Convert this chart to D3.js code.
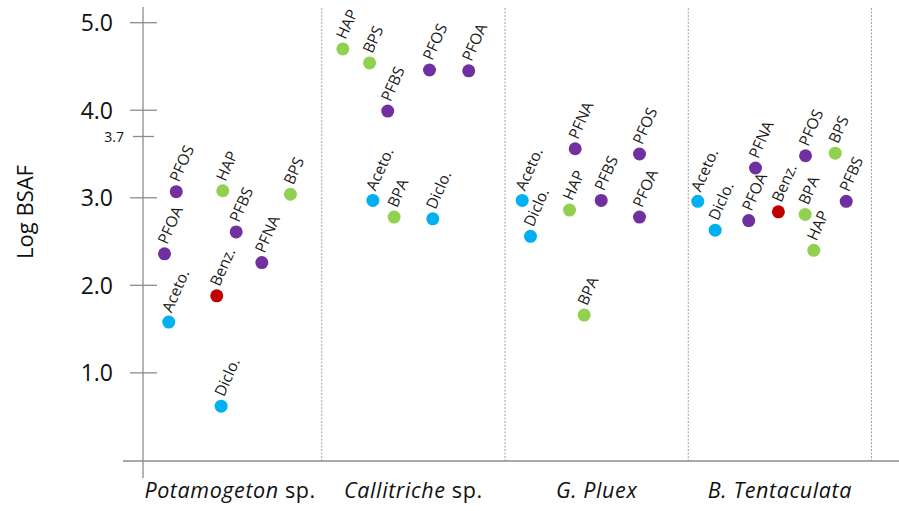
<!DOCTYPE html>
<html><head><meta charset="utf-8">
<script src="https://cdn.jsdelivr.net/npm/d3@7"></script>
<style>body{margin:0;background:#fff}svg{display:block}</style>
</head><body><svg id="c" width="899" height="511"></svg>
<script>
// ---- data ----
const groups = ["Potamogeton sp.", "Callitriche sp.", "G. Pluex", "B. Tentaculata"];
const majorTicks = [1, 2, 3, 4, 5];
const majorTickLabels = ["1.0", "2.0", "3.0", "4.0", "5.0"];
const minorTicks = [3.7];
const minorTickLabels = ["3.7"];

const potNames   = ["PFOA", "PFOS", "Aceto.", "Benz.", "Diclo.", "HAP", "PFBS", "PFNA", "BPS"];
const potValues  = [2.36, 3.07, 1.58, 1.88, 0.62, 3.08, 2.61, 2.26, 3.04];
const potOffsets = [0.142, 0.206, 0.165, 0.427, 0.451, 0.460, 0.533, 0.673, 0.829];

const calNames   = ["HAP", "BPS", "PFBS", "PFOS", "PFOA", "Aceto.", "BPA", "Diclo."];
const calValues  = [4.70, 4.54, 3.99, 4.46, 4.45, 2.97, 2.78, 2.76];
const calOffsets = [0.115, 0.261, 0.360, 0.588, 0.802, 0.279, 0.395, 0.606];

const gplNames   = ["Aceto.", "Diclo.", "HAP", "PFNA", "PFBS", "PFOS", "PFOA", "BPA"];
const gplValues  = [2.97, 2.56, 2.86, 3.56, 2.97, 3.50, 2.78, 1.66];
const gplOffsets = [0.094, 0.139, 0.352, 0.383, 0.525, 0.734, 0.734, 0.432];

const btnNames   = ["Aceto.", "Diclo.", "PFOA", "PFNA", "Benz.", "PFOS", "BPA", "HAP", "BPS", "PFBS"];
const btnValues  = [2.96, 2.63, 2.74, 3.34, 2.84, 3.48, 2.81, 2.40, 3.51, 2.96];
const btnOffsets = [0.052, 0.147, 0.330, 0.367, 0.492, 0.640, 0.638, 0.685, 0.802, 0.862];

const pfasCompounds = ["PFOA", "PFOS", "PFBS", "PFNA"];
const bisphenolCompounds = ["HAP", "BPS", "BPA"];
const pharmaCompounds = ["Aceto.", "Diclo."];
const otherCompounds = ["Benz."];

// ---- build ----
const seriesNames = [potNames, calNames, gplNames, btnNames];
const seriesValues = [potValues, calValues, gplValues, btnValues];
const seriesOffsets = [potOffsets, calOffsets, gplOffsets, btnOffsets];
const points = [];
groups.forEach((g, gi) => {
  seriesNames[gi].forEach((n, i) => points.push({group: g, name: n, value: seriesValues[gi][i], off: seriesOffsets[gi][i]}));
});
function colorOf(n) {
  if (pfasCompounds.includes(n)) return "#7030A0";
  if (bisphenolCompounds.includes(n)) return "#92D050";
  if (pharmaCompounds.includes(n)) return "#00B0F0";
  return "#C00000";
}

const svg = d3.select("#c");
const FONT = "'Open Sans', Lato, sans-serif";
const axisX = 143, baseY = 461;

const x = d3.scaleBand().domain(groups).range([138.5, 871.5]).paddingInner(0).paddingOuter(0);
const y = d3.scaleLinear().domain([0, 5]).range([460.4, 22.7]);

// separators (dotted)
svg.append("g").selectAll("line").data(groups).join("line")
  .attr("x1", d => x(d) + x.bandwidth()).attr("x2", d => x(d) + x.bandwidth())
  .attr("y1", 8).attr("y2", baseY)
  .attr("stroke", "#a0a0a0").attr("stroke-width", 1).attr("stroke-dasharray", "2,1.5");

// base line
svg.append("line").attr("x1", 123).attr("x2", 899).attr("y1", baseY).attr("y2", baseY)
  .attr("stroke", "#8c8c8c").attr("stroke-width", 1.3);
// y axis line
svg.append("line").attr("x1", axisX).attr("x2", axisX).attr("y1", 7).attr("y2", 478)
  .attr("stroke", "#8c8c8c").attr("stroke-width", 1.3);

// major ticks
const gt = svg.append("g");
gt.selectAll("line").data(majorTicks).join("line")
  .attr("x1", 130).attr("x2", 157).attr("y1", d => y(d)).attr("y2", d => y(d))
  .attr("stroke", "#8c8c8c").attr("stroke-width", 1.3);
gt.selectAll("text").data(majorTicks).join("text")
  .attr("x", 113).attr("y", d => y(d)).attr("dy", "0.36em")
  .attr("text-anchor", "end").attr("font-family", FONT).attr("font-size", 23).attr("fill", "#111")
  .text((d, i) => majorTickLabels[i]);
// minor ticks
const gm = svg.append("g");
gm.selectAll("line").data(minorTicks).join("line")
  .attr("x1", 133).attr("x2", 154).attr("y1", d => y(d)).attr("y2", d => y(d))
  .attr("stroke", "#8c8c8c").attr("stroke-width", 1.3);
gm.selectAll("text").data(minorTicks).join("text")
  .attr("x", 124).attr("y", d => y(d)).attr("dy", "0.36em")
  .attr("text-anchor", "end").attr("font-family", FONT).attr("font-size", 14).attr("fill", "#111")
  .text((d, i) => minorTickLabels[i]);

// y title
svg.append("text").attr("transform", "translate(33,212) rotate(-90)")
  .attr("text-anchor", "middle").attr("font-family", FONT).attr("font-size", 22).attr("fill", "#111")
  .text("Log BSAF");

// x labels
const xl = svg.append("g").selectAll("text").data(groups).join("text")
  .attr("x", d => x(d) + x.bandwidth() / 2).attr("y", 498)
  .attr("text-anchor", "middle").attr("font-family", FONT).attr("font-size", 21.5)
  .attr("letter-spacing", 0.6).attr("fill", "#111");
xl.each(function(d) {
  const t = d3.select(this);
  const m = d.match(/^(.*?)( sp\.)$/);
  if (m) {
    t.append("tspan").attr("font-style", "italic").text(m[1]);
    t.append("tspan").text(m[2]);
  } else {
    t.append("tspan").attr("font-style", "italic").text(d);
  }
});

// points
const cx = d => x(d.group) + d.off * x.bandwidth();
const pg = svg.append("g").selectAll("g").data(points).join("g")
  .attr("transform", d => `translate(${cx(d)},${y(d.value)})`);
pg.append("circle").attr("r", 6.5).attr("fill", d => colorOf(d.name));
pg.append("text").attr("transform", "rotate(-66)")
  .attr("x", 9).attr("y", -1)
  .attr("font-family", FONT).attr("font-size", 15.5).attr("fill", "#1a1a1a")
  .text(d => d.name);
</script></body></html>
